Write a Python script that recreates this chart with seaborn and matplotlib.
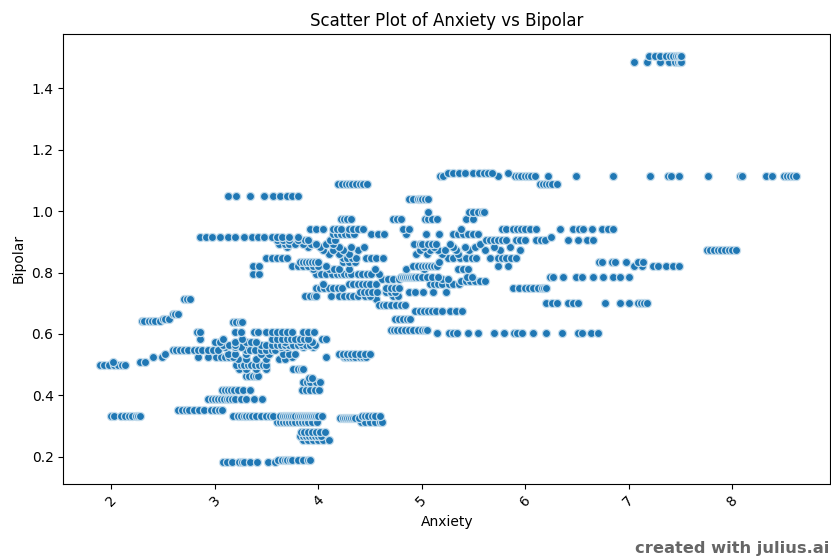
import pandas as pd
import matplotlib
matplotlib.use('Agg')
import matplotlib.pyplot as plt
import seaborn as sns

# Anxiety values per band. Band name = Bipolar level x 1000
# Bottom cluster
b183 = [3.08, 3.12, 3.17, 3.23, 3.26, 3.28, 3.34, 3.41, 3.51, 3.58]
b190 = [3.61, 3.65, 3.68, 3.7, 3.73, 3.75, 3.8, 3.85, 3.9, 3.92]
b254 = [3.85, 3.9, 3.95, 4.0, 4.05, 4.1]
b267 = [3.82, 3.85, 3.88, 3.91, 3.94, 3.97, 4.0, 4.03]
b280 = [3.83, 3.86, 3.9, 3.94, 3.98, 4.02, 4.07]
b314 = [3.6, 3.63, 3.66, 3.69, 3.72, 3.75, 3.78, 3.81, 3.84, 3.87, 3.9, 3.94, 3.99, 4.41, 4.45, 4.5, 4.55, 4.6, 4.62]
b326 = [4.21, 4.24, 4.26, 4.28, 4.3, 4.32, 4.34, 4.36, 4.39]
b333 = [2.0, 2.03, 2.09, 2.13, 2.17, 2.2, 2.24, 2.26, 2.28, 3.18, 3.22, 3.25, 3.28, 3.3, 3.33, 3.36, 3.4, 3.45, 3.5, 3.53, 3.56, 3.63, 3.66, 3.68, 3.7, 3.72, 3.74, 3.76, 3.78, 3.8, 3.82, 3.84, 3.86, 3.88, 3.9, 3.92, 3.94, 3.96, 3.98, 4.0, 4.04, 4.42, 4.45, 4.48, 4.52, 4.55, 4.6]
b352 = [2.64, 2.68, 2.72, 2.75, 2.8, 2.85, 2.9, 2.96, 3.0, 3.04, 3.07]
b388 = [2.93, 2.97, 3.0, 3.03, 3.06, 3.09, 3.12, 3.14, 3.17, 3.2, 3.25, 3.3, 3.38, 3.46]
b417 = [3.07, 3.1, 3.13, 3.16, 3.19, 3.22, 3.27, 3.34, 3.84, 3.88, 3.92, 3.97, 4.01]
b444 = [3.85, 3.89, 3.92, 3.98, 4.02]
b456 = [3.91, 3.94]

# Lower left cluster
b463 = [3.3, 3.33, 3.37, 3.4, 3.42]
b485 = [3.23, 3.3, 3.4, 3.5, 3.76, 3.8, 3.83, 3.85]
b500 = [1.89, 1.93, 1.98, 2.03, 2.06, 2.1, 2.13, 3.21, 3.25, 3.28, 3.32, 3.35, 3.39, 3.43, 3.47, 3.5]
b510 = [2.02, 2.28, 2.33]
b518 = [3.22, 3.3, 3.4, 3.5, 3.62, 3.68]
b524 = [2.4, 2.49, 2.84, 2.93, 3.01, 3.06, 3.1, 3.14, 3.18, 3.75, 4.08, 4.25, 4.27, 4.3, 4.33, 4.36, 4.4, 4.43, 4.46]
b535 = [2.52, 3.13, 3.2, 3.3, 3.45, 3.52, 3.66, 3.72, 3.78, 4.2, 4.24, 4.28, 4.32, 4.36, 4.4, 4.45, 4.5]
b548 = [2.6, 2.63, 2.66, 2.7, 2.74, 2.8, 2.84, 2.88, 2.93, 2.98, 3.03, 3.3, 3.34, 3.39, 3.45, 3.5, 3.55, 3.58]
b556 = [3.1, 3.2, 3.25, 3.64, 3.7, 3.85, 3.95]
b565 = [3.08, 3.14, 3.2, 3.45, 3.5, 3.55, 3.6, 3.64, 3.68, 3.72, 3.76, 3.8, 3.84, 3.88, 3.92, 3.97]
b575 = [3.0, 3.05, 3.2, 3.3, 3.35, 3.4, 3.68, 3.82, 3.94]
b585 = [2.86, 3.08, 3.26, 3.55, 3.6, 3.65, 3.7, 3.74, 3.78, 3.82, 3.86, 3.9, 4.04, 4.08]
b608 = [2.83, 2.86, 3.2, 3.25, 3.38, 3.42, 3.5, 3.55, 3.6, 3.65, 3.7, 3.75, 3.85, 3.9, 3.96]
b638 = [3.18, 3.21, 3.24, 3.26]
b642 = [2.3, 2.32, 2.36, 2.39, 2.42, 2.47]
b650 = [2.5, 2.52, 2.56]
b665 = [2.6, 2.62, 2.64]
b715 = [2.7, 2.73, 2.76, 4.56]

# Middle cluster
b604 = [5.15, 5.26, 5.3, 5.34, 5.45, 5.54, 5.7, 5.8, 5.89, 5.92, 5.97, 6.08, 6.2, 6.36, 6.51, 6.55, 6.64, 6.7]
b612 = [4.7, 4.73, 4.76, 4.8, 4.84, 4.88, 4.92, 4.96, 5.0, 5.03, 5.05]
b648 = [4.74, 4.78, 4.82, 4.86, 4.89]
b674 = [4.94, 4.98, 5.02, 5.06, 5.1, 5.14, 5.2, 5.27, 5.33, 5.39]
b694 = [4.59, 4.63, 4.66, 4.7, 4.75, 4.8, 4.84]
b702 = [6.2, 6.26, 6.31, 6.41, 6.46, 6.51, 6.77, 6.92, 7.0, 7.09, 7.12, 7.15, 7.18]
b724 = [3.87, 3.92, 3.96, 3.98, 4.12, 4.2, 4.25, 4.3, 4.34, 4.38, 4.45, 4.5, 4.72, 4.77]
b738 = [4.4, 4.44, 4.48, 4.52, 4.57, 4.66, 4.7, 4.74, 4.88, 4.94, 5.01, 5.11, 5.24]
b751 = [3.98, 4.02, 4.06, 4.1, 4.14, 4.19, 4.23, 4.66, 4.7, 4.74, 4.78, 5.88, 5.94, 6.0, 6.04, 6.08, 6.12, 6.16, 6.18, 6.2]
b764 = [4.05, 4.3, 4.34, 4.38, 4.42, 4.46, 4.5, 4.56, 5.08, 5.12, 5.16, 5.2, 5.26, 5.3, 5.36]
b773 = [5.38, 5.43, 5.47, 5.52, 5.56, 5.61]
b778 = [4.62, 4.67, 4.72, 4.78, 5.2, 5.25]
b786 = [4.8, 4.82, 4.84, 4.86, 4.88, 4.9, 4.92, 4.94, 4.96, 5.0, 5.05, 5.1, 5.16, 5.44, 5.49, 6.24, 6.27, 6.37, 6.49, 6.55, 6.66, 6.75, 6.85, 6.92, 7.0]
b795 = [3.37, 3.43, 3.98, 4.03, 4.08, 4.13, 4.18, 4.22, 4.25, 4.29, 4.32, 4.38, 4.42, 4.47, 4.51, 4.59]
b810 = [3.95, 4.1, 4.15, 4.2, 4.3, 4.55, 4.85, 5.02, 5.35, 5.4, 5.45]
b821 = [3.37, 3.43, 3.75, 3.8, 3.85, 3.9, 3.95, 4.0, 4.08, 4.92, 4.96, 5.0, 5.03, 5.06, 5.09, 5.12, 5.15, 5.74, 5.83, 7.05, 7.13, 7.24, 7.28, 7.36, 7.43, 7.49]
b835 = [3.82, 3.85, 3.88, 3.91, 3.94, 3.97, 4.0, 4.24, 4.3, 4.36, 5.17, 6.71, 6.74, 6.84, 6.87, 6.98, 7.09, 7.14]
b848 = [3.5, 3.55, 3.6, 3.65, 3.7, 4.24, 4.28, 4.33, 4.37, 4.46, 4.51, 4.56, 4.63, 5.25, 5.3, 5.37, 5.43, 5.49, 5.53, 5.66, 5.74, 5.78, 5.82, 5.86, 5.91]
b860 = [4.1, 4.2, 4.3, 4.95, 5.05, 5.2, 5.35]
b873 = [4.05, 4.14, 4.24, 4.38, 4.98, 5.08, 5.16, 5.23, 5.33, 5.46, 5.61, 5.76, 5.95, 7.76, 7.79, 7.83, 7.86, 7.89, 7.93, 7.97, 8.0, 8.04]
b882 = [3.7, 3.9, 4.02, 4.2, 4.32, 4.44, 5.02, 5.12, 5.3, 5.42, 5.52, 5.7, 5.85]
b893 = [3.62, 3.68, 3.72, 3.78, 3.85, 3.93, 3.98, 4.08, 4.14, 4.93, 4.98, 5.0, 5.06, 5.1, 5.14, 5.27, 5.56]
b906 = [3.6, 3.66, 3.72, 3.8, 3.87, 3.9, 4.11, 4.16, 5.62, 5.66, 5.7, 5.74, 5.78, 5.82, 5.91, 5.95, 6.0, 6.11, 6.15, 6.19, 6.41, 6.51, 6.6, 6.66]
b915 = [2.86, 2.92, 2.97, 3.05, 3.13, 3.2, 3.28, 3.36, 3.42, 3.48, 3.55, 3.6, 3.65, 3.72, 3.8, 6.25]
b925 = [4.14, 4.18, 4.22, 4.26, 4.3, 4.35, 4.51, 4.58, 4.64, 4.85, 5.04, 5.17, 5.3, 5.35, 5.4, 5.45, 5.5, 5.54]
b943 = [3.92, 3.98, 4.05, 4.14, 4.18, 4.22, 4.3, 4.34, 4.38, 4.43, 4.82, 4.88, 5.38, 5.78, 5.82, 5.88, 5.92, 5.96, 6.0, 6.05, 6.11, 6.34, 6.46, 6.52, 6.56, 6.65, 6.74, 6.8, 6.85]
b975 = [4.22, 4.25, 4.28, 4.32, 4.72, 4.76, 4.8, 5.03, 5.06, 5.1, 5.15, 5.43, 5.5]
b998 = [5.06, 5.46, 5.5, 5.54, 5.58, 5.6]
b1038 = [4.88, 4.92, 4.96, 4.98, 5.0, 5.03, 5.06]

# Top rows
b1050 = [3.13, 3.21, 3.34, 3.48, 3.56, 3.63, 3.7, 3.75, 3.8]
b1090 = [4.19, 4.23, 4.27, 4.3, 4.33, 4.37, 4.4, 4.43, 4.47, 6.14, 6.17, 6.2, 6.23, 6.26, 6.31]
b1115 = [5.18, 5.21, 5.74, 5.9, 5.93, 5.96, 6.0, 6.03, 6.06, 6.1, 6.22, 6.49, 6.85, 7.21, 7.38, 7.41, 7.49, 7.77, 8.08, 8.1, 8.33, 8.39, 8.5, 8.53, 8.56, 8.59, 8.62]
b1125 = [5.25, 5.3, 5.36, 5.42, 5.5, 5.55, 5.6, 5.64, 5.68, 5.83]
b1485 = [7.05, 7.18, 7.3, 7.39, 7.45, 7.48, 7.5, 7.51]
b1505 = [7.2, 7.26, 7.3, 7.36, 7.4, 7.43, 7.46, 7.48, 7.5, 7.51]

bipolar_levels = [0.183, 0.19, 0.254, 0.267, 0.28, 0.314, 0.326, 0.333, 0.352, 0.388, 0.417, 0.444, 0.456,
                  0.463, 0.485, 0.5, 0.51, 0.518, 0.524, 0.535, 0.548, 0.556, 0.565, 0.575, 0.585, 0.608, 0.638,
                  0.642, 0.65, 0.665, 0.715,
                  0.604, 0.612, 0.648, 0.674, 0.694, 0.702, 0.724, 0.738, 0.751, 0.764, 0.773, 0.778, 0.786, 0.795,
                  0.81, 0.821, 0.835, 0.848, 0.86, 0.873, 0.882, 0.893, 0.906, 0.915, 0.925, 0.943, 0.975, 0.998, 1.038,
                  1.05, 1.09, 1.115, 1.125, 1.485, 1.505]
anxiety_bands = [b183, b190, b254, b267, b280, b314, b326, b333, b352, b388, b417, b444, b456,
                 b463, b485, b500, b510, b518, b524, b535, b548, b556, b565, b575, b585, b608, b638,
                 b642, b650, b665, b715,
                 b604, b612, b648, b674, b694, b702, b724, b738, b751, b764, b773, b778, b786, b795,
                 b810, b821, b835, b848, b860, b873, b882, b893, b906, b915, b925, b943, b975, b998, b1038,
                 b1050, b1090, b1115, b1125, b1485, b1505]

rows = []
for level, band in zip(bipolar_levels, anxiety_bands):
    for value in band:
        rows.append({'Anxiety': value, 'Bipolar': level})
df = pd.DataFrame(rows)

fig = plt.figure(figsize=(8.31, 5.57), dpi=100)
ax = fig.add_axes([63.3 / 831, 1 - 483.5 / 557, 767 / 831, 449.5 / 557])

# pale marker edge stands in for the soft halo round the dots in the reference
sns.scatterplot(x='Anxiety', y='Bipolar', data=df, ax=ax, s=34, edgecolor='#c4dcec', linewidth=0.9)
ax.set_xlim(1.536, 8.95)
ax.set_ylim(0.113, 1.577)
ax.set_title('Scatter Plot of Anxiety vs Bipolar')
ax.tick_params(axis='x', labelrotation=45)

fig.text(0.9985, 0.001, 'created with julius.ai', ha='right', va='bottom',
         fontsize=11.7, fontweight='bold', color='#666666')

plt.savefig('out.png', dpi=100)
